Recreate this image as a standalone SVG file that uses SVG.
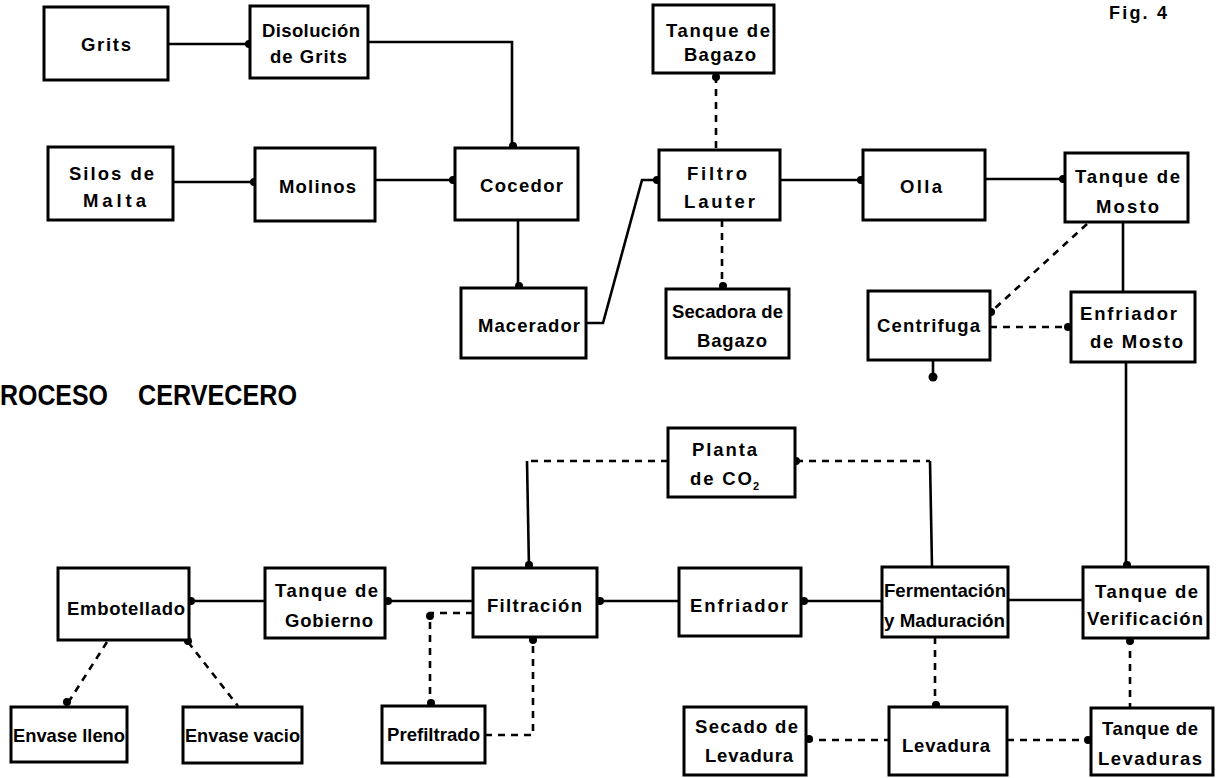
<svg xmlns="http://www.w3.org/2000/svg" width="1216" height="778" viewBox="0 0 1216 778">
<style>
.box{fill:#fff;stroke:#000;stroke-width:3}
.t{font-family:"Liberation Sans",Arial,sans-serif;font-weight:bold;font-size:18.5px;fill:#000}
.s{fill:none;stroke:#000;stroke-width:2.6}
.d{fill:none;stroke:#000;stroke-width:2.6;stroke-dasharray:7 6}
.dot{fill:#000}
</style>
<rect width="1216" height="778" fill="#fff"/>
<text class="t" x="1109" y="19" style="font-size:18px" textLength="58">Fig. 4</text>
<text class="t" y="405" style="font-size:29px"><tspan x="0" textLength="108" lengthAdjust="spacingAndGlyphs">ROCESO</tspan><tspan x="138" textLength="159" lengthAdjust="spacingAndGlyphs">CERVECERO</tspan></text>

<g id="connectors">
<path class="s" d="M168 44H250"/><circle class="dot" cx="249" cy="44" r="4"/>
<path class="s" d="M368 42H512V148"/><circle class="dot" cx="513" cy="146" r="4"/>
<path class="s" d="M173 182H255"/><circle class="dot" cx="254" cy="182" r="4"/>
<path class="s" d="M375 180H455"/><circle class="dot" cx="453" cy="180" r="4"/>
<path class="s" d="M518 220V288"/><circle class="dot" cx="519" cy="286" r="4"/>
<path class="s" d="M586 323H603L642 180H659"/><circle class="dot" cx="657" cy="180" r="4"/>
<path class="d" d="M716 76V150"/><circle class="dot" cx="716" cy="77" r="4"/>
<path class="d" d="M722 220V289"/><circle class="dot" cx="723" cy="286" r="4"/>
<path class="s" d="M780 180H863"/><circle class="dot" cx="861" cy="180" r="4"/>
<path class="s" d="M985 179H1065"/><circle class="dot" cx="1063" cy="179" r="4"/>
<path class="d" d="M1087 224L993 310"/><circle class="dot" cx="991" cy="312" r="4"/>
<path class="s" d="M1123 222V292"/>
<path class="d" d="M990 327H1071"/><circle class="dot" cx="1068" cy="327" r="4"/>
<path class="s" d="M933 360V377"/><circle class="dot" cx="933" cy="377" r="4.5"/>
<path class="s" d="M1126 362V567"/><circle class="dot" cx="1127" cy="565" r="4"/>
<path class="d" d="M668 461H527"/><path class="s" d="M527 461L529 568"/><circle class="dot" cx="529" cy="565" r="4"/>
<circle class="dot" cx="796" cy="461" r="4"/><path class="d" d="M796 461H930"/><path class="s" d="M930 461L932 567"/>
<path class="s" d="M188 601H265"/><circle class="dot" cx="191" cy="601" r="4"/>
<path class="s" d="M385 601H473"/><circle class="dot" cx="388" cy="601" r="4"/>
<path class="s" d="M597 601H679"/><circle class="dot" cx="600" cy="601" r="4"/>
<path class="s" d="M801 601H882"/><circle class="dot" cx="804" cy="601" r="4"/>
<path class="s" d="M1008 600H1083"/>
<path class="d" d="M473 613H430V706"/><circle class="dot" cx="430" cy="616" r="4"/><circle class="dot" cx="431" cy="703" r="4"/>
<path class="d" d="M485 735H533V637"/><circle class="dot" cx="533" cy="640" r="4"/>
<path class="d" d="M107 642L66 706"/><circle class="dot" cx="67" cy="702" r="4"/>
<path class="d" d="M188 642L238 706"/><circle class="dot" cx="188" cy="641" r="4"/>
<path class="d" d="M935 637V707"/><circle class="dot" cx="936" cy="705" r="4"/>
<path class="d" d="M1130 638V708"/><circle class="dot" cx="1130" cy="641" r="4"/>
<path class="d" d="M806 740H889"/><circle class="dot" cx="809" cy="739" r="4"/>
<path class="d" d="M1007 740H1091"/><circle class="dot" cx="1088" cy="740" r="4"/>
</g>

<g id="n-grits"><rect class="box" x="44" y="7" width="124" height="73"/><text class="t" x="81" y="51" textLength="50">Grits</text></g>
<g id="n-disolucion"><rect class="box" x="250" y="6" width="118" height="72"/><text class="t" x="262" y="37" textLength="98">Disolución</text><text class="t" x="270" y="63" textLength="77">de Grits</text></g>
<g id="n-silos"><rect class="box" x="48" y="147" width="125" height="73"/><text class="t" x="69" y="180" textLength="85">Silos de</text><text class="t" x="83" y="207" textLength="63">Malta</text></g>
<g id="n-molinos"><rect class="box" x="255" y="148" width="120" height="73"/><text class="t" x="279" y="193" textLength="77">Molinos</text></g>
<g id="n-cocedor"><rect class="box" x="455" y="148" width="123" height="72"/><text class="t" x="480" y="192" textLength="83">Cocedor</text></g>
<g id="n-tanque-bagazo"><rect class="box" x="653" y="5" width="121" height="68"/><text class="t" x="666" y="37" textLength="104">Tanque de</text><text class="t" x="684" y="61" textLength="72">Bagazo</text></g>
<g id="n-filtro"><rect class="box" x="659" y="150" width="121" height="70"/><text class="t" x="687" y="180" textLength="60">Filtro</text><text class="t" x="684" y="208" textLength="71">Lauter</text></g>
<g id="n-olla"><rect class="box" x="863" y="150" width="122" height="70"/><text class="t" x="900" y="193" textLength="42">Olla</text></g>
<g id="n-tanque-mosto"><rect class="box" x="1065" y="153" width="123" height="69"/><text class="t" x="1075" y="183" textLength="105">Tanque de</text><text class="t" x="1096" y="213" textLength="63">Mosto</text></g>
<g id="n-macerador"><rect class="box" x="461" y="288" width="125" height="70"/><text class="t" x="478" y="332" textLength="102">Macerador</text></g>
<g id="n-secadora"><rect class="box" x="666" y="289" width="123" height="69"/><text class="t" x="672" y="318" textLength="111">Secadora de</text><text class="t" x="697" y="347" textLength="70">Bagazo</text></g>
<g id="n-centrifuga"><rect class="box" x="868" y="291" width="122" height="69"/><text class="t" x="877" y="332" textLength="103">Centrifuga</text></g>
<g id="n-enfriador-mosto"><rect class="box" x="1071" y="292" width="124" height="70"/><text class="t" x="1080" y="320" textLength="97">Enfriador</text><text class="t" x="1090" y="348" textLength="93">de Mosto</text></g>
<g id="n-planta"><rect class="box" x="668" y="428" width="127" height="69"/><text class="t" x="692" y="456" textLength="65">Planta</text><text class="t" x="690" y="485" textLength="62">de CO</text><text class="t" x="753" y="490" style="font-size:11px">2</text></g>
<g id="n-embotellado"><rect class="box" x="58" y="568" width="131" height="72"/><text class="t" x="67" y="615" textLength="118">Embotellado</text></g>
<g id="n-tanque-gobierno"><rect class="box" x="265" y="568" width="120" height="70"/><text class="t" x="275" y="597" textLength="103">Tanque de</text><text class="t" x="285" y="627" textLength="88">Gobierno</text></g>
<g id="n-filtracion"><rect class="box" x="473" y="568" width="124" height="69"/><text class="t" x="487" y="612" textLength="95">Filtración</text></g>
<g id="n-enfriador"><rect class="box" x="679" y="568" width="122" height="68"/><text class="t" x="690" y="612" textLength="98">Enfriador</text></g>
<g id="n-fermentacion"><rect class="box" x="882" y="567" width="126" height="70"/><text class="t" x="884" y="597" textLength="122" lengthAdjust="spacingAndGlyphs">Fermentación</text><text class="t" x="884" y="627" textLength="121" lengthAdjust="spacingAndGlyphs">y Maduración</text></g>
<g id="n-tanque-verificacion"><rect class="box" x="1083" y="567" width="125" height="71"/><text class="t" x="1095" y="598" textLength="103">Tanque de</text><text class="t" x="1087" y="625" textLength="116">Verificación</text></g>
<g id="n-envase-lleno"><rect class="box" x="11" y="707" width="116" height="55"/><text class="t" x="13" y="742" textLength="112" lengthAdjust="spacingAndGlyphs">Envase lleno</text></g>
<g id="n-envase-vacio"><rect class="box" x="183" y="707" width="119" height="56"/><text class="t" x="185" y="742" textLength="115" lengthAdjust="spacingAndGlyphs">Envase vacio</text></g>
<g id="n-prefiltrado"><rect class="box" x="382" y="706" width="103" height="57"/><text class="t" x="387" y="741" textLength="93" lengthAdjust="spacingAndGlyphs">Prefiltrado</text></g>
<g id="n-secado"><rect class="box" x="684" y="707" width="122" height="68"/><text class="t" x="695" y="733" textLength="103">Secado de</text><text class="t" x="705" y="762" textLength="88">Levadura</text></g>
<g id="n-levadura"><rect class="box" x="889" y="707" width="118" height="68"/><text class="t" x="902" y="752" textLength="88">Levadura</text></g>
<g id="n-tanque-levaduras"><rect class="box" x="1091" y="708" width="122" height="67"/><text class="t" x="1102" y="735" textLength="96">Tanque de</text><text class="t" x="1098" y="765" textLength="104">Levaduras</text></g>
</svg>
